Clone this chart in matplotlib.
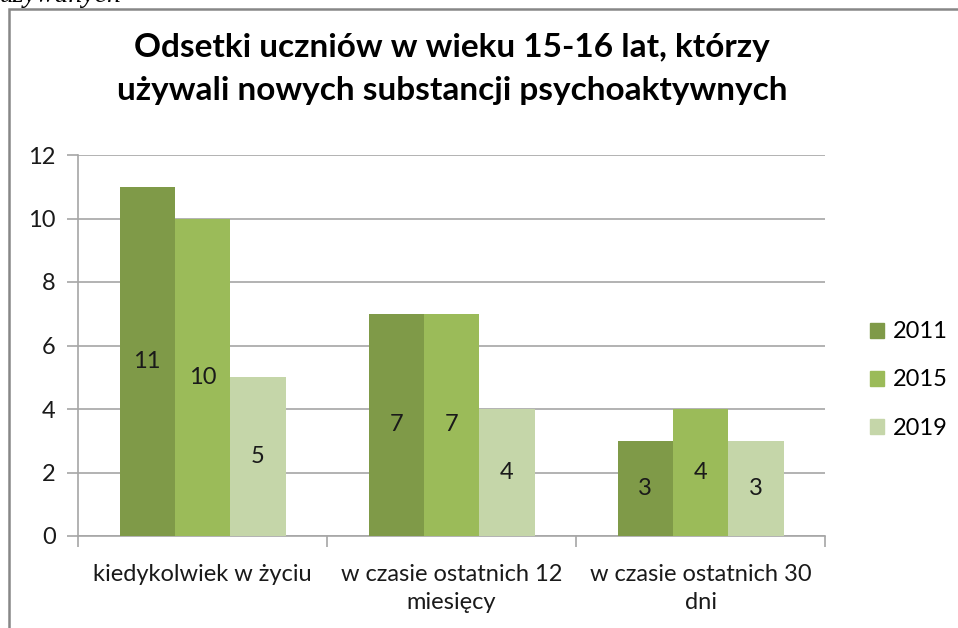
import matplotlib
matplotlib.use("Agg")
import matplotlib.pyplot as plt
import numpy as np
from matplotlib.patches import Rectangle

categories = ["kiedykolwiek w życiu", "w czasie ostatnich 12\nmiesięcy",
              "w czasie ostatnich 30\ndni"]
years = ["2011", "2015", "2019"]
values = {
    "2011": [11, 7, 3],
    "2015": [10, 7, 4],
    "2019": [5, 4, 3],
}
colors = {"2011": "#7f9a48", "2015": "#9bbb59", "2019": "#c5d6a9"}
title = "Odsetki uczniów w wieku 15-16 lat, którzy\nużywali nowych substancji psychoaktywnych"

plt.rcParams["font.family"] = ["Lato", "DejaVu Sans"]
GRID = "#a6a6a6"
FS = 17

fig = plt.figure(figsize=(9.58, 6.28), dpi=100)
ax = fig.add_axes([78 / 958, 1 - 536 / 628, (825 - 78) / 958, (536 - 155) / 628])

# outer chart frame, runs off the right and bottom edges
fig.patches.append(Rectangle((9 / 958, -0.05), 1.1, 1 - 8.5 / 628 + 0.05,
                             transform=fig.transFigure, fill=False,
                             edgecolor="#878787", lw=1.8))
# clipped caption from the surrounding document
fig.text(0.0, 1 + 5 / 628, "używanych", ha="left", va="center", fontsize=20,
         family="Liberation Serif", style="italic", color="black")

x = np.arange(len(categories))
w = 1 / 4.5
for i, yr in enumerate(years):
    pos = x + (i - 1) * w
    bars = ax.bar(pos, values[yr], width=w, color=colors[yr], label=yr,
                  zorder=3)
    for b, v in zip(bars, values[yr]):
        ax.text(b.get_x() + b.get_width() / 2, v / 2, str(v), ha="center",
                va="center", fontsize=FS, color="#1a1a1a", zorder=4)

ax.set_xlim(-0.5, 2.5)
ax.set_ylim(0, 12)
ax.set_yticks(range(0, 13, 2))
ax.yaxis.grid(True, color=GRID, lw=1.2, zorder=0)
ax.tick_params(axis="y", length=8, color=GRID, width=1.2, labelsize=FS,
               labelcolor="#1a1a1a", pad=8)
ax.set_xticks([-0.5, 0.5, 1.5, 2.5])
ax.set_xticklabels([])
ax.set_xticks(x, minor=True)
ax.set_xticklabels(categories, minor=True, fontsize=FS, color="#1a1a1a",
                   linespacing=1.45)
ax.tick_params(axis="x", which="major", length=8, color=GRID, width=1.2)
ax.tick_params(axis="x", which="minor", length=0, pad=20)
for s in ("top", "right"):
    ax.spines[s].set_visible(False)
for s in ("left", "bottom"):
    ax.spines[s].set_color(GRID)
    ax.spines[s].set_linewidth(1.2)

fig.text(452 / 958, 1 - 69 / 628, title, ha="center", va="center",
         fontsize=24, fontweight="bold", color="black", linespacing=1.55)

handles = [Rectangle((0, 0), 1, 1, color=colors[yr]) for yr in years]
fig.legend(handles, years, loc="center left",
           bbox_to_anchor=(849 / 958, 1 - 380 / 628), frameon=False,
           fontsize=FS, handlelength=0.6, handleheight=0.6,
           handletextpad=0.35, labelspacing=1.15)

fig.savefig("out.png", dpi=100)
